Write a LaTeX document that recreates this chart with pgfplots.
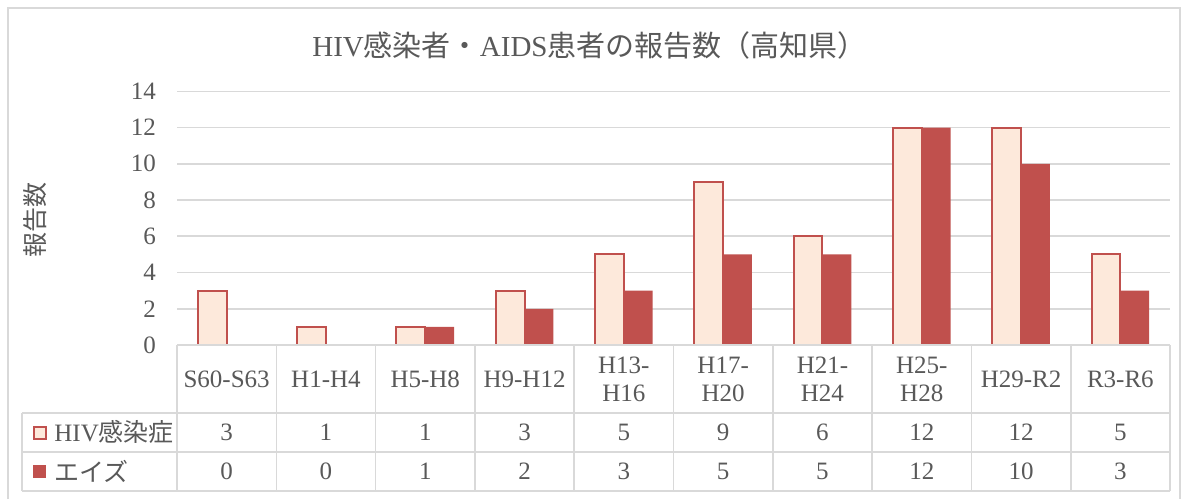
\documentclass[border=0pt]{standalone}
\usepackage{pgfplots}
\pgfplotsset{compat=1.18}
\usepackage{fontspec}
\setmainfont{Liberation Serif}
\newfontfamily\cjk{Noto Sans CJK JP}
\definecolor{txt}{HTML}{595959}
\definecolor{gridc}{HTML}{D9D9D9}
\definecolor{hivfill}{HTML}{FDE9DB}
\definecolor{aidsred}{HTML}{C0504D}
\newcommand{\fs}{\fontsize{12.5}{14}\selectfont}
\begin{document}
\begin{tikzpicture}
\useasboundingbox (0,0) rectangle (590.5pt,249.5pt);
\fill[white] (0,0) rectangle (590.5pt,249.5pt);
% outer chart border
\draw[gridc, line width=0.9pt] (4pt,0pt) -- (4pt,245.5pt) -- (590pt,245.5pt) -- (590pt,0pt);
\begin{axis}[
  at={(88.5pt,77pt)}, anchor=south west,
  scale only axis, width=496.5pt, height=126.85pt,
  xmin=-0.5, xmax=9.5, ymin=0, ymax=14,
  ytick={0,2,...,14}, xtick=\empty,
  major tick length=0pt,
  axis line style={draw=none},
  ymajorgrids, grid style={gridc, line width=0.8pt},
  ybar=0pt, bar width=0.29,
  /pgf/number format/assume math mode=true,
  yticklabel style={font=\fs, text=txt, xshift=-7pt},
  clip=false,
]
\addplot[draw=aidsred, line width=1pt, fill=hivfill] coordinates {
 (0,3) (1,1) (2,1) (3,3) (4,5) (5,9) (6,6) (7,12) (8,12) (9,5)};
\addplot[draw=none, fill=aidsred] coordinates {
 (0,0) (1,0) (2,1) (3,2) (4,3) (5,5) (6,5) (7,12) (8,10) (9,3)};
\end{axis}
% title
\node[text=txt, font=\fontsize{14.5}{17}\selectfont] at (294.75pt,227pt)
  {HIV{\cjk 感染者・}AIDS{\cjk 患者の報告数（高知県）}};
% y label
\node[text=txt, font=\fs, rotate=90] at (17.5pt,139.75pt) {\cjk 報告数};
% data table lines
\begin{scope}[gridc, line width=0.8pt]
\draw (88.5pt,77pt) -- (585pt,77pt);
\foreach \yy in {43pt,23.65pt,4pt} \draw (11pt,\yy) -- (585pt,\yy);
\draw (11pt,43pt) -- (11pt,4pt);
\foreach \k in {0,...,10} \draw ({88.5pt+49.65pt*\k},77pt) -- ({88.5pt+49.65pt*\k},4pt);
\end{scope}
% table text
\foreach \lab/\a/\b [count=\i from 0] in {S60-S63/3/0, H1-H4/1/0, H5-H8/1/1, H9-H12/3/2, H13-\\H16/5/3, H17-\\H20/9/5, H21-\\H24/6/5, H25-\\H28/12/12, H29-R2/12/10, R3-R6/5/3}{
  \node[text=txt, font=\fs, align=center, inner sep=0pt] at ({88.5pt+49.65pt*(\i+0.5)},60pt) {\lab};
  \node[text=txt, font=\fs, inner sep=0pt] at ({88.5pt+49.65pt*(\i+0.5)},33.3pt) {\a};
  \node[text=txt, font=\fs, inner sep=0pt] at ({88.5pt+49.65pt*(\i+0.5)},13.8pt) {\b};
}
% legend keys
\draw[aidsred, line width=0.9pt, fill=hivfill] (16.8pt,30pt) rectangle (22.8pt,36pt);
\fill[aidsred] (16.5pt,10.6pt) rectangle (23pt,17.1pt);
\node[text=txt, font=\fs, anchor=west, inner sep=0pt] at (27pt,33.3pt) {HIV{\cjk 感染症}};
\node[text=txt, font=\fs, anchor=west, inner sep=0pt] at (27pt,13.8pt) {\cjk エイズ};
\end{tikzpicture}
\end{document}
